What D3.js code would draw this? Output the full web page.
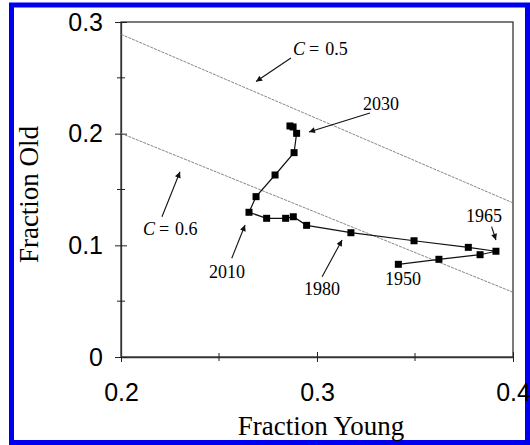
<!DOCTYPE html>
<html>
<head>
<meta charset="utf-8">
<script src="https://cdn.jsdelivr.net/npm/d3@7"></script>
<style>
body { margin: 0; background: #fff; }
svg { display: block; }
</style>
</head>
<body>
<svg id="chart" width="530" height="445"></svg>
<script>
// trajectory, 1950 -> 2040 in five year steps
var young = [0.3415, 0.3622, 0.3832, 0.3913, 0.3772, 0.3495, 0.3173, 0.2947, 0.2879, 0.2840,
	0.2743, 0.2653, 0.2689, 0.2786, 0.2883, 0.2896, 0.2878, 0.2862];
var old = [0.0830, 0.0875, 0.0916, 0.0947, 0.0982, 0.1041, 0.1113, 0.1179, 0.1256, 0.1242,
	0.1242, 0.1296, 0.1436, 0.1630, 0.1830, 0.2003, 0.2060, 0.2069];

// constant C lines, [young, old] at each end
var lineC05 = [[0.2, 0.289], [0.4, 0.138]];
var lineC06 = [[0.2, 0.2003], [0.4, 0.058]];

var xTicks = [0.2, 0.3, 0.4];
var xMinor = [0.25, 0.35];
var yTicks = [0, 0.1, 0.2, 0.3];
var yMinor = [0.05, 0.15, 0.25];

// labels: text, [young, old] of baseline start, arrow from / to (or null)
var labels = [
	{c: '0.5', text: null, at: [0.2878, 0.2704], from: [0.2867, 0.2678], to: [0.2689, 0.2467]},
	{c: null, text: '2030', at: [0.3235, 0.2212], from: [0.3270, 0.2185], to: [0.2959, 0.2015]},
	{c: '0.6', text: null, at: [0.2112, 0.1093], from: [0.2209, 0.1256], to: [0.2301, 0.1659]},
	{c: null, text: '2010', at: [0.2449, 0.0707], from: [0.2565, 0.0884], to: [0.2633, 0.1182]},
	{c: null, text: '1980', at: [0.2934, 0.0555], from: [0.3026, 0.0719], to: [0.3128, 0.1048]},
	{c: null, text: '1950', at: [0.3347, 0.0645], from: null, to: null},
	{c: null, text: '1965', at: [0.3760, 0.1209], from: [0.3891, 0.1167], to: [0.3913, 0.1048]}
];

function drawChart()
{
	var svg = d3.select('#chart');
	var pLeft = 121, pRight = 513, pTop = 22, pBottom = 357;

	var x = d3.scaleLinear().domain([0.2, 0.4]).range([pLeft, pRight]);
	var y = d3.scaleLinear().domain([0, 0.3]).range([pBottom, pTop]);

	// blue frame round the figure
	svg.append('rect')
		.attr('x', 11.5).attr('y', 5).attr('width', 516).attr('height', 437.5)
		.attr('fill', 'none').attr('stroke', '#0000f0').attr('stroke-width', 5);

	var defs = svg.append('defs');
	defs.append('marker')
		.attr('id', 'head').attr('viewBox', '0 0 10 10')
		.attr('refX', 10).attr('refY', 5)
		.attr('markerWidth', 10).attr('markerHeight', 6)
		.attr('markerUnits', 'userSpaceOnUse')
		.attr('orient', 'auto')
		.append('path').attr('d', 'M0,0 L10,5 L0,10 z').attr('fill', '#111');

	// plot frame
	svg.append('rect')
		.attr('x', pLeft).attr('y', pTop).attr('width', pRight - pLeft).attr('height', pBottom - pTop)
		.attr('fill', 'none').attr('stroke', '#333').attr('stroke-width', 1.3);

	// axes
	var xAxis = svg.append('g').attr('transform', 'translate(0,' + pBottom + ')')
		.call(d3.axisBottom(x).tickValues(xTicks).tickSizeOuter(0).tickFormat(d3.format('.1f')));
	xAxis.selectAll('.tick line').attr('y1', -5).attr('y2', 5).attr('stroke', '#222');
	xAxis.selectAll('.tick text').attr('y', 26).attr('dy', '0.71em');

	var yAxis = svg.append('g').attr('transform', 'translate(' + pLeft + ',0)')
		.call(d3.axisLeft(y).tickValues(yTicks).tickSizeOuter(0).tickFormat(d => d === 0 ? '0' : d3.format('.1f')(d)));
	yAxis.selectAll('.tick line').attr('x1', 6).attr('x2', -6).attr('stroke', '#222');
	yAxis.selectAll('.tick text').attr('x', -18);

	[xAxis, yAxis].forEach(g => {
		g.select('.domain').attr('stroke', '#333').attr('stroke-width', 1.3);
		g.selectAll('.tick text').attr('font-family', 'Liberation Sans, Arial, sans-serif')
			.attr('font-size', 25).attr('fill', '#000');
	});

	svg.append('g').selectAll('line').data(xMinor).enter().append('line')
		.attr('x1', d => x(d)).attr('x2', d => x(d))
		.attr('y1', pBottom - 4).attr('y2', pBottom + 4).attr('stroke', '#222');
	svg.append('g').selectAll('line').data(yMinor).enter().append('line')
		.attr('y1', d => y(d)).attr('y2', d => y(d))
		.attr('x1', pLeft - 4).attr('x2', pLeft + 4).attr('stroke', '#222');

	// axis titles
	svg.append('text')
		.attr('x', (pLeft + pRight) / 2 + 4).attr('y', 435)
		.attr('text-anchor', 'middle')
		.attr('font-family', 'Liberation Serif, Times New Roman, serif').attr('font-size', 27)
		.text('Fraction Young');
	svg.append('text')
		.attr('transform', 'translate(38,' + (y(0.15) + 5) + ') rotate(-90)')
		.attr('text-anchor', 'middle')
		.attr('font-family', 'Liberation Serif, Times New Roman, serif').attr('font-size', 27)
		.text('Fraction Old');

	// C lines
	var line = d3.line().x(d => x(d[0])).y(d => y(d[1]));
	svg.append('g').selectAll('path').data([lineC05, lineC06]).enter().append('path')
		.attr('d', line).attr('fill', 'none')
		.attr('stroke', '#777').attr('stroke-width', 0.9).attr('stroke-dasharray', '3,1');

	// trajectory
	var pts = young.map((v, i) => [v, old[i]]);
	svg.append('path').datum(pts)
		.attr('d', line).attr('fill', 'none').attr('stroke', '#111').attr('stroke-width', 1.2);
	svg.append('g').selectAll('rect').data(pts).enter().append('rect')
		.attr('x', d => x(d[0]) - 3.5).attr('y', d => y(d[1]) - 3.5)
		.attr('width', 7).attr('height', 7).attr('fill', '#000');

	// annotations
	var ann = svg.append('g')
		.attr('font-family', 'Liberation Serif, Times New Roman, serif').attr('font-size', 18);
	labels.forEach(d => {
		var t = ann.append('text').attr('x', x(d.at[0])).attr('y', y(d.at[1]));
		if (d.c)
		{
			t.append('tspan').attr('font-style', 'italic').text('C');
			t.append('tspan').attr('dx', 4).text('=');
			t.append('tspan').attr('dx', 6).text(d.c);
		}
		else
		{
			t.text(d.text);
		}
		if (d.from)
		{
			ann.append('line')
				.attr('x1', x(d.from[0])).attr('y1', y(d.from[1]))
				.attr('x2', x(d.to[0])).attr('y2', y(d.to[1]))
				.attr('stroke', '#111').attr('stroke-width', 1.1)
				.attr('marker-end', 'url(#head)');
		}
	});
}

drawChart();
</script>
</body>
</html>
